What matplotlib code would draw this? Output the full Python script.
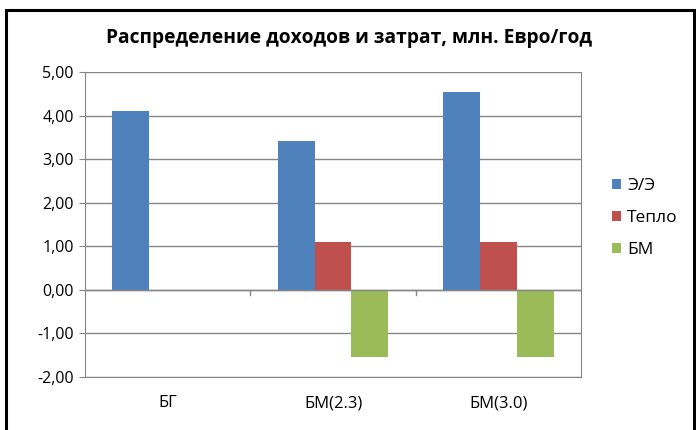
import numpy as np
import matplotlib
matplotlib.use("Agg")
from matplotlib import pyplot as plt
from matplotlib.patches import Rectangle
from matplotlib.ticker import FuncFormatter

plt.rcParams['font.family'] = ['Open Sans', 'DejaVu Sans']

# Daten
categories = ['БГ', 'БМ(2.3)', 'БМ(3.0)']
series_names = ['Э/Э', 'Тепло', 'БМ']
ee = [4.11, 3.42, 4.54]
teplo = [0.0, 1.10, 1.10]
bm = [0.0, -1.54, -1.54]
colors = ['#4F81BD', '#C0504D', '#9BBB59']

fig = plt.figure(figsize=(6.96, 4.30), dpi=100)
ax = fig.add_axes([0.122, 0.1233, 0.713, 0.7093])

x = np.arange(len(categories))
w = 1 / 4.5
for i, (vals, name, c) in enumerate(zip([ee, teplo, bm], series_names, colors)):
    ax.bar(x + (i - 1) * w, vals, w, color=c, label=name, zorder=3)

ax.set_xlim(-0.5, len(categories) - 0.5)
ax.set_ylim(-2, 5)
ax.set_yticks(np.arange(-2, 6, 1))
ax.yaxis.set_major_formatter(FuncFormatter(lambda v, p: f'{v:.2f}'.replace('.', ',')))
ax.grid(axis='y', color='#868686', lw=1, zorder=0)

# Nulllinie mit Teilstrichen zwischen Kategorien
ax.axhline(0, color='#868686', lw=1, zorder=4)
for b in np.arange(0.5, len(categories) - 1, 1):
    ax.plot([b, b], [0, -0.12], color='#868686', lw=1, zorder=4, clip_on=False)

ax.set_xticks(x)
ax.set_xticklabels(categories)
ax.tick_params(axis='x', length=0, pad=13, labelsize=12)
ax.tick_params(axis='y', length=4, color='#868686', labelsize=11.5, pad=4)

ax.spines['top'].set_visible(False)
for s in ['left', 'bottom', 'right']:
    ax.spines[s].set_color('#868686')

fig.text(0.501, 0.912, 'Распределение доходов и затрат, млн. Евро/год',
         fontsize=13.8, fontweight='bold', ha='center', va='center')

leg = ax.legend(loc='center left', bbox_to_anchor=(1.03, 0.52), frameon=False,
                fontsize=12.5, handlelength=0.55, handleheight=0.55,
                handletextpad=0.35, labelspacing=0.92)

# Rahmen
fig.patches.append(Rectangle((6 / 696, -0.05), 688 / 696, 1.05 - 10 / 430,
                             transform=fig.transFigure, fill=False,
                             edgecolor='black', lw=2.2))

fig.savefig('out.png', dpi=100)
